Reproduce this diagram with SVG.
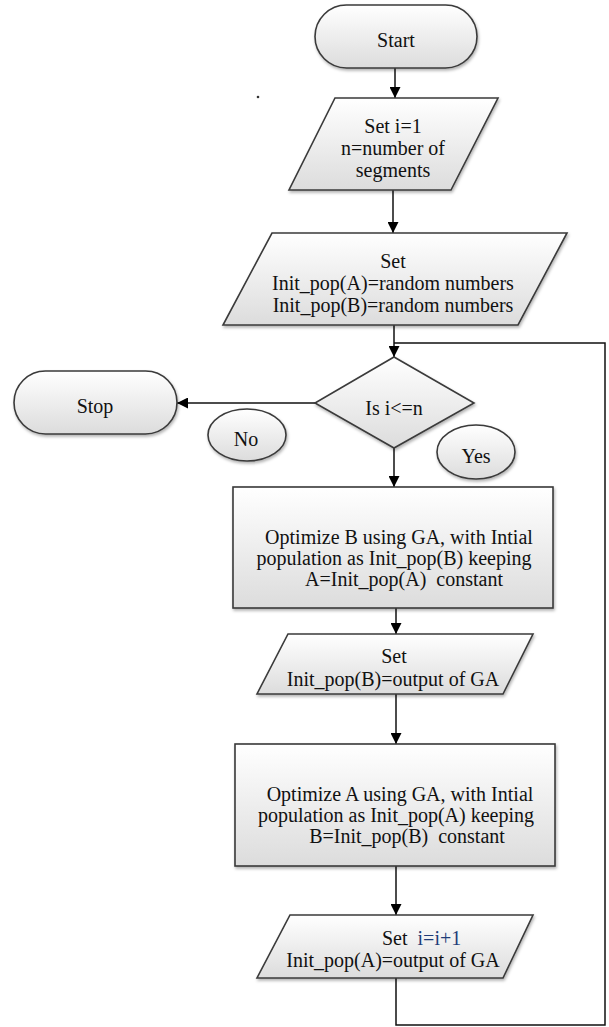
<svg xmlns="http://www.w3.org/2000/svg" width="609" height="1027" viewBox="0 0 609 1027">
<defs>
<linearGradient id="g" x1="0" y1="0" x2="0" y2="1">
<stop offset="0" stop-color="#ffffff"/>
<stop offset="1" stop-color="#dcdcdc"/>
</linearGradient>
<filter id="sh" x="-10%" y="-10%" width="120%" height="130%">
<feDropShadow dx="1" dy="2" stdDeviation="1.5" flood-color="#000" flood-opacity="0.3"/>
</filter>
<marker id="ah" viewBox="0 0 10 10" refX="10" refY="5" markerWidth="11" markerHeight="11" markerUnits="userSpaceOnUse" orient="auto">
<path d="M0,0 L10,5 L0,10 Z" fill="#000"/>
</marker>
</defs>
<style>
.s{fill:url(#g);stroke:#3a3a3a;stroke-width:1.6;filter:url(#sh)}
.t{font-family:'Liberation Serif','Noto Serif','DejaVu Serif',Times,serif;font-size:20px;fill:#111;text-anchor:middle;white-space:pre}
.c{fill:none;stroke:#111;stroke-width:1.5}
</style>
<rect width="609" height="1027" fill="#fff"/>
<g id="connectors">
<line class="c" x1="395" y1="68" x2="395" y2="98" marker-end="url(#ah)"/>
<line class="c" x1="393" y1="190" x2="393" y2="233" marker-end="url(#ah)"/>
<line class="c" x1="394" y1="325" x2="394" y2="357" marker-end="url(#ah)"/>
<line class="c" x1="315" y1="403" x2="177" y2="403" marker-end="url(#ah)"/>
<line class="c" x1="394" y1="448" x2="394" y2="487" marker-end="url(#ah)"/>
<line class="c" x1="396" y1="608" x2="396" y2="634" marker-end="url(#ah)"/>
<line class="c" x1="396" y1="694" x2="396" y2="744" marker-end="url(#ah)"/>
<line class="c" x1="396" y1="866" x2="396" y2="915" marker-end="url(#ah)"/>
<polyline class="c" points="396,978 396,1025 605,1025 605,343 394,343"/>
</g>
<circle cx="258" cy="97" r="1.3" fill="#333"/>
<g id="start">
<rect class="s" x="315" y="5" width="162" height="63" rx="31.5"/>
<text class="t" x="396" y="47">Start</text>
</g>
<g id="set1">
<polygon class="s" points="335,98 498,98 451,190 289,190"/>
<text class="t" x="393" y="133">Set i=1</text>
<text class="t" x="393" y="155">n=number of</text>
<text class="t" x="393" y="177">segments</text>
</g>
<g id="set2">
<polygon class="s" points="272,233 567,233 518,325 223,325"/>
<text class="t" x="393" y="268">Set</text>
<text class="t" x="393" y="290">Init_pop(A)=random numbers</text>
<text class="t" x="393" y="312">Init_pop(B)=random numbers</text>
</g>
<g id="decision">
<polygon class="s" points="394,357 474,403 394,448 315,403"/>
<text class="t" x="394" y="415">Is i&lt;=n</text>
</g>
<g id="stop">
<rect class="s" x="14" y="371" width="163" height="63" rx="31.5"/>
<text class="t" x="95" y="413">Stop</text>
</g>
<g id="no">
<ellipse class="s" cx="247" cy="435" rx="39" ry="26"/>
<text class="t" x="246" y="446">No</text>
</g>
<g id="yes">
<ellipse class="s" cx="476" cy="452" rx="39" ry="27"/>
<text class="t" x="476" y="463">Yes</text>
</g>
<g id="optB">
<rect class="s" x="233" y="487" width="320" height="121"/>
<text class="t" x="399" y="544">Optimize B using GA, with Intial</text>
<text class="t" x="394" y="565">population as Init_pop(B) keeping</text>
<text class="t" x="404" y="586">A=Init_pop(A)  constant</text>
</g>
<g id="set3">
<polygon class="s" points="288,634 533,634 503,694 257,694"/>
<text class="t" x="394" y="663">Set</text>
<text class="t" x="393" y="686">Init_pop(B)=output of GA</text>
</g>
<g id="optA">
<rect class="s" x="235" y="744" width="320" height="122"/>
<text class="t" x="400" y="801">Optimize A using GA, with Intial</text>
<text class="t" x="396" y="822">population as Init_pop(A) keeping</text>
<text class="t" x="407" y="843">B=Init_pop(B)  constant</text>
</g>
<g id="set4">
<polygon class="s" points="290,915 533,915 503,978 257,978"/>
<text class="t" x="382" y="945" style="text-anchor:start">Set  <tspan fill="#1e3c78">i=i+1</tspan></text>
<text class="t" x="393" y="967">Init_pop(A)=output of GA</text>
</g>
</svg>
